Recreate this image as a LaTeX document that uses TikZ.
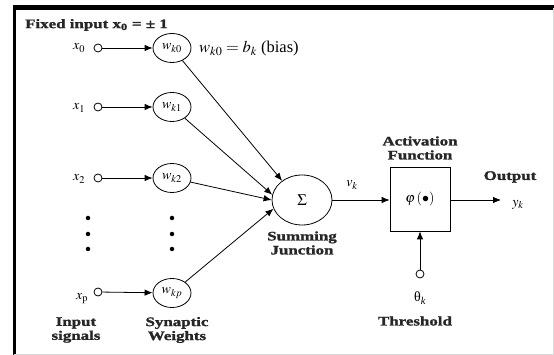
\documentclass[tikz,border=0pt]{standalone}
\usepackage{mathptmx}
\usepackage{fontspec}
\setmainfont{Liberation Serif}
\newfontfamily\lblfont{Liberation Serif}[FakeStretch=1.3, FakeBold=1.5]
\usetikzlibrary{arrows.meta,shapes.geometric}
\tikzset{
  lbl/.style={font=\fontsize{13}{14}\lblfont\bfseries, align=center, inner sep=0pt, text=black!85},
  wnode/.style={draw, ellipse, minimum width=38pt, minimum height=29pt, inner sep=0pt, line width=0.8pt, font=\fontsize{14}{14}\selectfont},
  inp/.style={draw, circle, minimum size=8pt, inner sep=0pt, line width=0.8pt, fill=white},
  con/.style={line width=0.8pt, -{Latex[length=8pt,width=6.5pt]}},
  mlab/.style={inner sep=0pt, font=\fontsize{14}{14}\selectfont},
  dotn/.style={circle, fill=black, inner sep=0pt, minimum size=4.5pt}
}
\begin{document}
\begin{tikzpicture}[x=1pt,y=-1pt]
\useasboundingbox (0,0) rectangle (554,355);
\fill[white] (0,0) rectangle (554,355);
% frame
\draw[line width=4.5pt] (13,7.5) -- (554,7.5);
\draw[line width=3pt] (14.5,6) -- (14.5,355);
\draw[black!15, line width=1pt] (553,8) -- (553,355);
\draw[black!15, line width=1pt] (14,354) -- (554,354);

\node[lbl, anchor=west] (fixed) at (25,25) {Fixed input x\textsubscript{0} = \textpm{} 1};

% inputs
\node[mlab] (lx0) at (79,48) {$x_0$};
\node[mlab] (lx1) at (79,108) {$x_1$};
\node[mlab] (lx2) at (79,179) {$x_2$};
\node[mlab] (lxp) at (82,299) {$x_{\mathrm p}$};
\node[inp] (c0) at (98,48) {};
\node[inp] (c1) at (98,107) {};
\node[inp] (c2) at (98,178) {};
\node[inp] (cp) at (98,292) {};

\node[wnode] (w0) at (172,48) {$w_{k0}$};
\node[wnode] (w1) at (172,107) {$w_{k1}$};
\node[wnode] (w2) at (172,178) {$w_{k2}$};
\node[wnode] (wp) at (172,293) {$w_{kp}$};

\node[mlab, anchor=west, font=\fontsize{16.5}{16}\selectfont] (bias) at (199,49) {$w_{k0} = b_k$ (bias)};

\draw[con] (c0) -- (w0);
\draw[con] (c1) -- (w1);
\draw[con] (c2) -- (w2);
\draw[con] (cp) -- (wp);

% dots
\node[dotn] (d1) at (88,218) {};
\node[dotn] (d2) at (88,234) {};
\node[dotn] (d3) at (88,249) {};
\node[dotn] (e1) at (172,218) {};
\node[dotn] (e2) at (172,234) {};
\node[dotn] (e3) at (172,249) {};

\node[lbl] (insig) at (76,330) {Input\\signals};
\node[lbl] (syn) at (177,330) {Synaptic\\Weights};

% summing junction
\node[draw, ellipse, minimum width=60pt, minimum height=50pt, line width=0.8pt, font=\fontsize{16}{16}\selectfont] (sum) at (302,200) {$\Sigma$};
\node[lbl] (sj) at (302,243) {Summing\\Junction};

\draw[con] (w0) -- (sum.136);
\draw[con] (w1) -- (sum.170);
\draw[con] (w2) -- (sum.180);
\draw[con] (wp) -- (sum.197);

% activation
\node[draw, rectangle, minimum width=60pt, minimum height=64pt, line width=0.8pt, font=\fontsize{14}{14}\selectfont] (act) at (420,199) {$\varphi\,(\bullet)$};
\node[lbl] (actl) at (420,148) {Activation\\Function};
\node[mlab] (vk) at (352,185) {$v_k$};
\draw[con] (sum) -- (act.west |- sum);

\coordinate (outend) at (501,200);
\draw[con] (act.east |- sum) -- (outend);
\node[lbl] (outl) at (510,177) {Output};
\node[mlab] (yk) at (518,205) {$y_k$};

% threshold
\node[inp] (th) at (420,274) {};
\draw[con] (th) -- (act.south);
\node[mlab] (thk) at (420,298) {θ\textsubscript{\itshape k}};
\node[lbl] (thl) at (415,321) {Threshold};
\end{tikzpicture}
\end{document}
